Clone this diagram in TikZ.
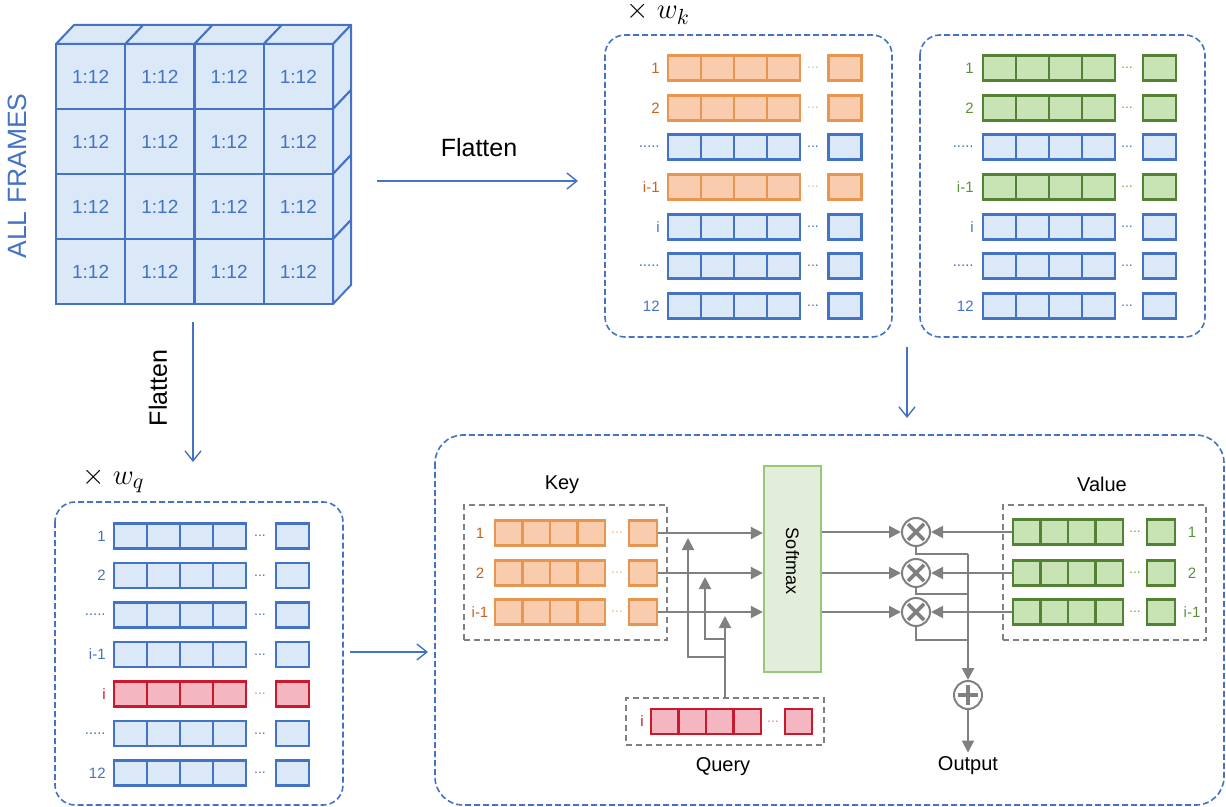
\documentclass[tikz,border=0pt]{standalone}
\usepackage{fontspec}
\setmainfont{Liberation Sans}
\usetikzlibrary{arrows.meta}
\definecolor{bline}{RGB}{68,114,196}
\definecolor{bfill}{RGB}{218,232,247}
\definecolor{btext}{RGB}{68,114,196}
\definecolor{bdot}{RGB}{68,114,196}
\definecolor{oline}{RGB}{230,150,80}
\definecolor{ofill}{RGB}{248,204,172}
\definecolor{otext}{RGB}{200,100,30}
\definecolor{odot}{RGB}{244,177,131}
\definecolor{gline}{RGB}{84,130,53}
\definecolor{gfill}{RGB}{200,227,180}
\definecolor{gtext}{RGB}{90,145,55}
\definecolor{gdot}{RGB}{112,173,71}
\definecolor{rline}{RGB}{200,25,45}
\definecolor{rfill}{RGB}{244,182,192}
\definecolor{rtext}{RGB}{200,25,45}
\definecolor{rdot}{RGB}{240,130,140}
\definecolor{smfill}{RGB}{226,238,218}
\definecolor{smline}{RGB}{151,200,120}
\definecolor{gry}{RGB}{128,128,128}
\begin{document}
\begin{tikzpicture}[x=0.5pt,y=-0.5pt,
cub/.style={draw=bline, fill=bfill, line width=1pt, minimum width=34.6pt, minimum height=32.5pt, inner sep=0pt, text=bline, font=\fontsize{9.5}{9.5}\selectfont},
face/.style={draw=bline, fill=bfill, line width=1pt, line join=round},
cel/.style={minimum width=16.5pt, minimum height=12.5pt, line width=1.2pt, inner sep=0pt},
scel/.style={minimum width=13.75pt, minimum height=12.5pt, line width=1.2pt, inner sep=0pt},
lab/.style={inner sep=1pt, font=\fontsize{7.5}{7.5}\selectfont},
dts/.style={inner sep=0pt, font=\fontsize{7}{7}\selectfont},
pan/.style={draw=bline, dash pattern=on 3pt off 1.5pt, line width=0.8pt, rounded corners=10pt},
gbox/.style={draw=gry, dash pattern=on 3pt off 2pt, line width=0.9pt, inner sep=0pt},
barr/.style={draw=bline, line width=0.7pt, -{Straight Barb[length=5pt,width=8pt]}},
gln/.style={draw=gry, line width=1pt},
garr/.style={gln, -{Triangle[length=6pt,width=6pt]}},
ttl/.style={font=\fontsize{10}{10}\selectfont},
wlab/.style={anchor=base west, inner sep=0pt, font=\fontsize{15.5}{15.5}\selectfont},
mul/.style={circle, draw=gry, fill=white, line width=1pt, minimum size=14pt, inner sep=0pt,
  path picture={\draw[gry, line width=1.9pt]
    ([shift={(-4pt,-4pt)}]path picture bounding box.center) -- ([shift={(4pt,4pt)}]path picture bounding box.center)
    ([shift={(-4pt,4pt)}]path picture bounding box.center) -- ([shift={(4pt,-4pt)}]path picture bounding box.center);}},
add/.style={circle, draw=gry, fill=white, line width=1pt, minimum size=14pt, inner sep=0pt,
  path picture={\draw[gry, line width=1.9pt]
    ([shift={(-5pt,0pt)}]path picture bounding box.center) -- ([shift={(5pt,0pt)}]path picture bounding box.center)
    ([shift={(0pt,-5pt)}]path picture bounding box.center) -- ([shift={(0pt,5pt)}]path picture bounding box.center);}}]
\useasboundingbox (0,0) rectangle (1226,807);

\node[rotate=90, text=bline, font=\fontsize{13.25}{13.25}\selectfont] (allf) at (17,176) {ALL FRAMES};
\foreach \cc in {0,...,3}
  \draw[face] ({56+69.25*\cc},44) -- ++(18,-19) -- ++(69.25,0) -- ++(-18,19) -- cycle;
\foreach \r in {0,...,3}
  \draw[face] (333,{44+65*\r}) -- ++(18,-19) -- ++(0,65) -- ++(-18,19) -- cycle;
\foreach \r in {0,...,3}
  \foreach \cc in {0,...,3}
    \node[cub] (cub\r\cc) at ({90.625+69.25*\cc},{76.5+65*\r}) {1:12};

\coordinate (f1s) at (377,181);
\coordinate (f1e) at (578,181);
\draw[barr] (f1s) -- (f1e);
\node[font=\fontsize{12.5}{12.5}\selectfont] (fl1) at (479,148) {Flatten};
\coordinate (f2s) at (193,322);
\coordinate (f2e) at (193,462);
\draw[barr] (f2s) -- (f2e);
\node[rotate=90, font=\fontsize{12.5}{12.5}\selectfont] (fl2) at (158,388) {Flatten};

\node[wlab] (wk) at (626,19) {$\times\; w_k$};
\node[wlab] (wq) at (82,484) {$\times\; w_q$};
\draw[pan] (605,35) rectangle (892,337);
\draw[pan] (920,35) rectangle (1205,337);
\draw[pan] (55,502) rectangle (343,805);
\draw[pan, rounded corners=14pt] (435,435) rectangle (1224,805);

\foreach \y/\cl/\lb [count=\i] in {68/o/1,108/o/2,147/b/{.....},187/o/i-1,227/b/i,266/b/{.....},306/b/12}{
  \foreach \j in {0,...,3}
    \node[cel, draw=\cl line, fill=\cl fill] (k\i c\j) at ({684.5+33*\j},\y) {};
  \node[cel, draw=\cl line, fill=\cl fill] (k\i s) at (845,\y) {};
  \node[dts, text=\cl dot] (k\i d) at (813,\y) {...};
  \node[lab, text=\cl text, anchor=east] (k\i l) at (662,\y) {\lb};
}
\foreach \y/\cl/\lb [count=\i] in {68/g/1,108/g/2,147/b/{.....},187/g/i-1,227/b/i,266/b/{.....},306/b/12}{
  \foreach \j in {0,...,3}
    \node[cel, draw=\cl line, fill=\cl fill] (v\i c\j) at ({999.5+33*\j},\y) {};
  \node[cel, draw=\cl line, fill=\cl fill] (v\i s) at (1159.5,\y) {};
  \node[dts, text=\cl dot] (v\i d) at (1127,\y) {...};
  \node[lab, text=\cl text, anchor=east] (v\i l) at (976,\y) {\lb};
}
\foreach \y/\cl/\lb [count=\i] in {536/b/1,575.5/b/2,615/b/{.....},654.5/b/i-1,694/r/i,733.5/b/{.....},773/b/12}{
  \foreach \j in {0,...,3}
    \node[cel, draw=\cl line, fill=\cl fill] (q\i c\j) at ({130.5+33*\j},\y) {};
  \node[cel, draw=\cl line, fill=\cl fill] (q\i s) at (292.5,\y) {};
  \node[dts, text=\cl dot] (q\i d) at (260,\y) {...};
  \node[lab, text=\cl text, anchor=east] (q\i l) at (108,\y) {\lb};
}
\coordinate (f3s) at (907,347);
\coordinate (f3e) at (907,418);
\draw[barr] (f3s) -- (f3e);
\coordinate (f4s) at (350,652);
\coordinate (f4e) at (428,652);
\draw[barr] (f4s) -- (f4e);

\node[gbox, minimum width=101.5pt, minimum height=67.5pt] (kbox) at (565.5,572.5) {};
\node[gbox, minimum width=101.5pt, minimum height=67.5pt] (vbox) at (1104.5,572.5) {};
\node[gbox, minimum width=99pt, minimum height=23.5pt] (qbox) at (725,721.5) {};
\node[ttl] (keyl) at (562,485) {Key};
\node[ttl] (vall) at (1102,484) {Value};
\node[ttl] (qryl) at (723,767) {Query};
\node[ttl, inner sep=2pt] (outl) at (968,766) {Output};

\foreach \y/\lb [count=\i] in {533/1,573/2,612/i-1}{
  \foreach \j in {0,...,3}
    \node[scel, draw=oline, fill=ofill] (bk\i c\j) at ({508.75+27.5*\j},\y) {};
  \node[scel, draw=oline, fill=ofill] (bk\i s) at (643,\y) {};
  \node[dts, text=odot] (bk\i d) at (617,\y) {...};
  \node[lab, text=otext] (bk\i l) at (480,\y) {\lb};
}
\foreach \y/\lb [count=\i] in {532/1,573/2,612/i-1}{
  \foreach \j in {0,...,3}
    \node[scel, draw=gline, fill=gfill] (bv\i c\j) at ({1026.75+27.5*\j},\y) {};
  \node[scel, draw=gline, fill=gfill] (bv\i s) at (1161,\y) {};
  \node[dts, text=gdot] (bv\i d) at (1135,\y) {...};
  \node[lab, text=gtext] (bv\i l) at (1192,\y) {\lb};
}
\foreach \j in {0,...,3}
  \node[scel, draw=rline, fill=rfill] (bq c\j) at ({664.75+27.5*\j},721.5) {};
\node[scel, draw=rline, fill=rfill] (bq s) at (798.5,721.5) {};
\node[dts, text=rdot] (bq d) at (773,721.5) {...};
\node[lab, text=rtext] (bq l) at (642,721.5) {i};

\node[draw=smline, fill=smfill, line width=1.2pt, minimum width=28.5pt, minimum height=103pt] (soft) at (792.5,569) {};
\node[rotate=-90, font=\fontsize{9}{9}\selectfont] (softl) at (792.5,561) {Softmax};

\node[mul] (m1) at (916,532) {};
\node[mul] (m2) at (916,573) {};
\node[mul] (m3) at (916,612) {};
\node[add] (ad) at (968,695) {};

\foreach \i in {1,2,3}{
  \draw[garr] (bk\i s.east) -- (bk\i s.east -| soft.west);
  \draw[garr] (soft.east |- m\i) -- (m\i.west);
  \draw[garr] (bv\i c0.west) -- (m\i.east);
}
\coordinate (t1) at (688,538);
\coordinate (t2) at (705,577);
\coordinate (t3) at (725,616);
\coordinate (q1) at (725,657);
\coordinate (q2) at (725,639);
\draw[garr] (qbox.north) -- (t3);
\draw[garr] (q1) -| (t1);
\draw[garr] (q2) -| (t2);

\coordinate (j1) at (968,554);
\coordinate (j2) at (968,594);
\coordinate (j3) at (968,640);
\draw[gln] (m1.south) |- (j1);
\draw[gln] (m2.south) |- (j2);
\draw[gln] (m3.south) |- (j3);
\draw[garr] (j1) -- (ad.north);
\draw[garr] (ad.south) -- (outl.north);

\end{tikzpicture}
\end{document}
